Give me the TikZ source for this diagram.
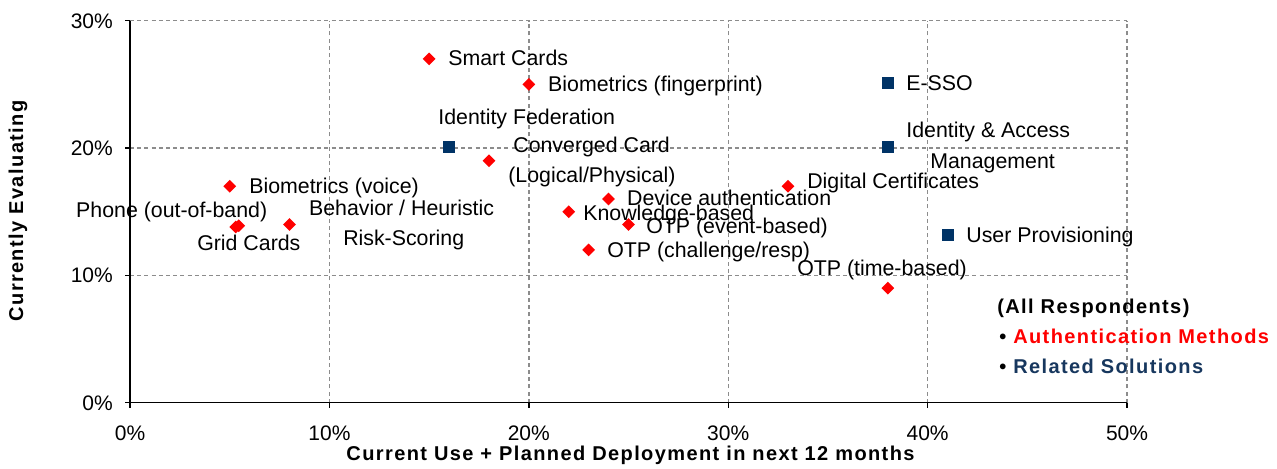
\documentclass[tikz,border=0pt]{standalone}
\usepackage{fontspec}
\setmainfont{Liberation Sans}
\newfontfamily\spacedfont[LetterSpace=7]{Liberation Sans}
\usetikzlibrary{shapes.geometric}
\definecolor{authred}{HTML}{FF0000}
\definecolor{solblue}{HTML}{003366}
\definecolor{soltext}{HTML}{17375E}
\definecolor{gridgray}{HTML}{8C8C8C}

\begin{document}
\begin{tikzpicture}[x=0.5256cm,y=0.3356cm,
  auth/.style={fill=authred,diamond,minimum size=9.75pt,inner sep=0pt},
  sol/.style={fill=solblue,rectangle,minimum size=9pt,inner sep=0pt},
  lbl/.style={anchor=west,inner sep=0pt,text height=11.5pt,text depth=0pt,
    font=\fontsize{16}{18}\selectfont},
  ticklbl/.style={inner sep=0pt,text height=11.3pt,text depth=0pt,
    font=\fontsize{15.75}{18}\selectfont},
  title/.style={inner sep=0pt,font=\fontsize{15}{17}\spacedfont\bfseries},
  gridline/.style={gridgray,line width=1.1pt,dash pattern=on 3pt off 2.4pt},
  axis/.style={black,line width=1.1pt}]
  \useasboundingbox (-6.52,-5.13) rectangle (57.52,31.63);

  % grid and axes
  \foreach \x in {10,20,30,40,50} \draw[gridline] (\x,0) -- (\x,30);
  \foreach \y in {10,20,30} \draw[gridline] (0,\y) -- (50,\y);
  \draw[axis] (0,30) -- (0,0) -- (50,0);
  \foreach \y in {0,10,20,30} {
    \draw[axis] (-0.25,\y) -- (0,\y);
    \node[ticklbl,anchor=east] (yt\y) at (-0.85,\y) {\y\%};
  }
  \foreach \x in {0,10,20,30,40,50} {
    \draw[axis] (\x,0) -- (\x,-0.4);
    \node[ticklbl] (xt\x) at (\x,-2.38) {\x\%};
  }
  \node[title] (xtitle) at (25.1,-4.1) {Current Use + Planned Deployment in next 12 months};
  \node[title,rotate=90] (ytitle) at (-5.62,15.06) {Currently Evaluating};

  % authentication methods
  \node[auth] (smart) at (15,27) {};
  \node[auth] (finger) at (20,25) {};
  \node[auth] (conv) at (18,19) {};
  \node[auth] (voice) at (5,17) {};
  \node[auth] (phone) at (5.3,13.8) {};
  \node[auth] (grid) at (5.45,13.9) {};
  \node[auth] (behav) at (8,14) {};
  \node[auth] (device) at (24,16) {};
  \node[auth] (know) at (22,15) {};
  \node[auth] (otpev) at (25,14) {};
  \node[auth] (otpch) at (23,12) {};
  \node[auth] (digcert) at (33,17) {};
  \node[auth] (otptm) at (38,9) {};

  % related solutions
  \node[sol] (idfed) at (16,20.1) {};
  \node[sol] (esso) at (38,25.1) {};
  \node[sol] (iam) at (38,20.1) {};
  \node[sol] (userprov) at (41,13.2) {};

  % point labels
  \node[lbl] (smart-l) at (15.95,27.08) {Smart Cards};
  \node[lbl] (finger-l) at (20.96,25.03) {Biometrics (fingerprint)};
  \node[lbl] (idfed-l) at (15.45,22.45) {Identity Federation};
  \node[lbl] (conv-l) at (19.21,20.24) {Converged Card};
  \node[lbl] (conv-l2) at (18.96,17.88) {(Logical/Physical)};
  \node[lbl] (voice-l) at (5.97,17.02) {Biometrics (voice)};
  \node[lbl] (phone-l) at (-2.71,15.13) {Phone (out-of-band)};
  \node[lbl] (behav-l) at (8.97,15.29) {Behavior / Heuristic};
  \node[lbl] (grid-l) at (3.36,12.55) {Grid Cards};
  \node[lbl] (behav-l2) at (10.68,12.94) {Risk-Scoring};
  \node[lbl] (device-l) at (24.92,16.08) {Device authentication};
  \node[lbl] (know-l) at (22.72,14.90) {Knowledge-based};
  \node[lbl] (otpev-l) at (25.88,13.88) {OTP (event-based)};
  \node[lbl] (otpch-l) at (23.92,11.99) {OTP (challenge/resp)};
  \node[lbl] (otptm-l) at (33.45,10.58) {OTP (time-based)};
  \node[lbl] (digcert-l) at (33.95,17.42) {Digital Certificates};
  \node[lbl] (esso-l) at (38.92,25.11) {E-SSO};
  \node[lbl] (iam-l) at (38.92,21.42) {Identity \& Access};
  \node[lbl] (iam-l2) at (40.12,18.99) {Management};
  \node[lbl] (userprov-l) at (41.93,13.18) {User Provisioning};

  % legend
  \node[title,anchor=west] (leg) at (43.48,7.44) {(All Respondents)};
  \node[title,anchor=west] (leg-a) at (43.58,5.24) {\textbullet\ \textcolor{authred}{Authentication Methods}};
  \node[title,anchor=west] (leg-s) at (43.58,2.88) {\textbullet\ \textcolor{soltext}{Related Solutions}};
\end{tikzpicture}
\end{document}
